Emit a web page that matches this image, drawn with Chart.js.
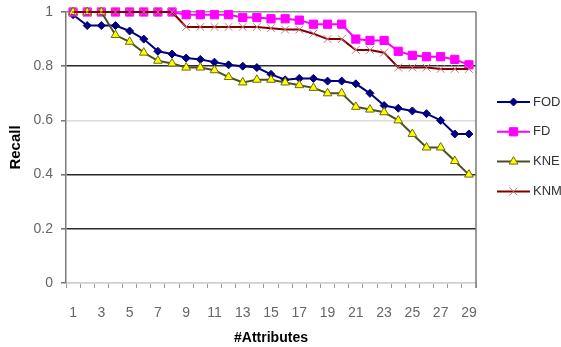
<!DOCTYPE html>
<html><head><meta charset="utf-8">
<script src="https://cdn.jsdelivr.net/npm/chart.js@4/dist/chart.umd.min.js"></script>
<style>html,body{margin:0;padding:0;background:#fff;}#wrap{width:561px;height:347px;position:relative;overflow:hidden;}</style>
</head><body><div id="wrap"><canvas id="c" width="561" height="347"></canvas></div>
<script>
const categories = ['1','2','3','4','5','6','7','8','9','10','11','12','13','14','15','16','17','18','19','20','21','22','23','24','25','26','27','28','29'];
const xTickLabels = ['1','','3','','5','','7','','9','','11','','13','','15','','17','','19','','21','','23','','25','','27','','29'];
const yTickValues = [0, 0.2, 0.4, 0.6, 0.8, 1];
const seriesNames = ['FOD', 'FD', 'KNE', 'KNM'];
const fodValues = [0.99,0.95,0.95,0.95,0.93,0.90,0.855,0.845,0.83,0.825,0.815,0.805,0.80,0.795,0.77,0.75,0.755,0.755,0.745,0.745,0.735,0.70,0.655,0.645,0.635,0.625,0.60,0.55,0.55];
const fdValues = [1,1,1,1,1,1,1,1,0.99,0.99,0.99,0.99,0.98,0.98,0.975,0.975,0.97,0.955,0.955,0.955,0.90,0.895,0.895,0.855,0.84,0.835,0.835,0.825,0.805];
const kneValues = [1,1,1,0.915,0.89,0.85,0.82,0.81,0.795,0.795,0.785,0.76,0.74,0.75,0.75,0.74,0.73,0.72,0.70,0.70,0.65,0.64,0.63,0.60,0.55,0.50,0.50,0.45,0.40];
const knmValues = [1,1,1,1,1,1,1,1,0.945,0.945,0.945,0.945,0.945,0.945,0.94,0.935,0.935,0.92,0.90,0.90,0.86,0.86,0.85,0.795,0.795,0.795,0.79,0.79,0.79];

const FONT = "'Liberation Sans', Arial, sans-serif";

const frameLegendPlugin = {
  id: 'frameLegend',
  beforeDatasetsDraw(chart) {
    const {ctx, chartArea: a} = chart;
    ctx.save();
    ctx.strokeStyle = '#7a7a7a';
    ctx.lineWidth = 1.5;
    ctx.beginPath();
    ctx.moveTo(a.right, a.top);
    ctx.lineTo(a.right, a.bottom + 5);
    ctx.stroke();
    ctx.restore();
  },
  afterDraw(chart) {
    const {ctx} = chart;
    const x0 = 497, x1 = 530, tx = 533, y0 = 102, dy = 29.8;
    ctx.save();
    chart.data.datasets.forEach((ds, i) => {
      const y = y0 + i * dy;
      ctx.strokeStyle = ds.borderColor;
      ctx.lineWidth = 2;
      ctx.beginPath();
      ctx.moveTo(x0, y); ctx.lineTo(x1, y); ctx.stroke();
      if (Chart.helpers && Chart.helpers.drawPoint) {
        ctx.fillStyle = ds.pointBackgroundColor;
        ctx.strokeStyle = ds.pointBorderColor;
        ctx.lineWidth = ds.pointBorderWidth;
        Chart.helpers.drawPoint(ctx, {pointStyle: ds.pointStyle, radius: ds.pointRadius, rotation: 0, borderWidth: ds.pointBorderWidth}, (x0 + x1) / 2, y);
      }
      ctx.fillStyle = '#333';
      ctx.font = '13px ' + FONT;
      ctx.textAlign = 'left';
      ctx.textBaseline = 'middle';
      ctx.fillText(ds.label, tx, y);
    });
    ctx.restore();
  }
};

const gridColorFor = (v) => {
  if (Math.abs(v - 0.6) < 1e-6) return '#dcdcdc';
  if (Math.abs(v - 1) < 1e-6) return '#8a8a8a';
  if (Math.abs(v) < 1e-6) return '#cfcfcf';
  return '#2a2a2a';
};

new Chart(document.getElementById('c'), {
  type: 'line',
  data: {
    labels: categories,
    datasets: [
      {label: seriesNames[0], data: fodValues, borderColor: '#000080', backgroundColor: '#000080', borderWidth: 2,
       pointStyle: 'rectRot', pointRadius: 4, pointBackgroundColor: '#000080', pointBorderColor: '#000080', pointBorderWidth: 1, order: 4},
      {label: seriesNames[1], data: fdValues, borderColor: '#ff00ff', backgroundColor: '#ff00ff', borderWidth: 2,
       pointStyle: 'rect', pointRadius: 5.8, pointBackgroundColor: '#ff00ff', pointBorderColor: '#ff00ff', pointBorderWidth: 1, order: 3},
      {label: seriesNames[2], data: kneValues, borderColor: '#4f4f22', backgroundColor: '#ffff00', borderWidth: 2,
       pointStyle: 'triangle', pointRadius: 5, pointBackgroundColor: '#ffff00', pointBorderColor: '#6b6b10', pointBorderWidth: 1, order: 2},
      {label: seriesNames[3], data: knmValues, borderColor: '#800000', backgroundColor: '#800000', borderWidth: 2,
       pointStyle: 'crossRot', pointRadius: 5.5, pointBackgroundColor: '#cc7777', pointBorderColor: '#cc7777', pointBorderWidth: 1, order: 1}
    ]
  },
  options: {
    responsive: false,
    animation: false,
    devicePixelRatio: 1,
    layout: {padding: {top: 12, right: 85, left: 0, bottom: 0}},
    elements: {line: {tension: 0, fill: false}},
    datasets: {line: {clip: false}},
    plugins: {legend: {display: false}, tooltip: {enabled: false}},
    scales: {
      x: {
        type: 'category',
        offset: true,
        afterFit(s) { s.height = 64; s.paddingLeft = 0; s.paddingRight = 0; },
        grid: {display: true, drawOnChartArea: false, drawTicks: true, tickLength: 5, offset: true, color: '#999', lineWidth: 1},
        border: {display: true, color: '#cfcfcf', width: 1.5},
        ticks: {autoSkip: false, maxRotation: 0, minRotation: 0, padding: 17, color: '#666',
          font: {family: FONT, size: 14},
          callback: (v, i) => xTickLabels[i]},
        title: {display: true, text: '#Attributes', color: '#000', font: {family: FONT, size: 14, weight: 'bold'}, padding: {top: 0, bottom: 0}}
      },
      y: {
        min: 0, max: 1,
        afterFit(s) { s.width = 66; s.paddingTop = 0; s.paddingBottom = 0; },
        afterBuildTicks(s) { s.ticks = yTickValues.map(v => ({value: v})); },
        grid: {drawTicks: true, tickLength: 5, tickColor: '#777',
          color: (c) => gridColorFor(c.tick ? c.tick.value : 0),
          lineWidth: (c) => { const v = c.tick ? c.tick.value : 0; return (Math.abs(v-0.6)<1e-6 || Math.abs(v)<1e-6) ? 1.5 : 1.6; }},
        border: {display: true, color: '#7a7a7a', width: 1.5},
        ticks: {padding: 8, color: '#666', font: {family: FONT, size: 14},
          callback: (v) => String(+(+v).toFixed(1))},
        title: {display: true, text: 'Recall', color: '#000', font: {family: FONT, size: 15, weight: 'bold'}, padding: {top: 7, bottom: 0}}
      }
    }
  },
  plugins: [frameLegendPlugin]
});
</script></body></html>
